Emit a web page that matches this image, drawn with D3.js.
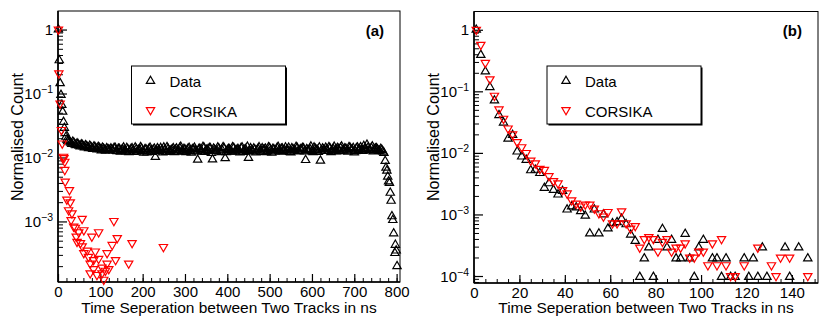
<!DOCTYPE html>
<html>
<head>
<meta charset="utf-8">
<script src="https://cdn.jsdelivr.net/npm/d3@7"></script>
<style>
  body { margin: 0; background: #fff; }
  text { font-family: "Liberation Sans", Arial, Helvetica, sans-serif; }
</style>
</head>
<body>
<script>
// ---- panel (a) : full range ----
var aDataHead = [[1,1.0],[3,0.33],[5,0.145],[7,0.095],[9,0.066],[11,0.052],[13,0.036],
  [15,0.029],[17,0.024],[19,0.021],[21,0.019],[23,0.018]];

// 5 ns bins starting at 25 ns
var aPlateauStart = 25, aPlateauStep = 5;
var aDataPlateau = [
  0.0185,0.0170,0.0176,0.0160,0.0166,0.0153,0.0160,0.0148,0.0155,0.0144,
  0.0152,0.0140,0.0149,0.0137,0.0146,0.0134,0.0142,0.0131,0.0139,0.0133,
  0.0138,0.0128,0.0141,0.0125,0.0136,0.0130,0.0143,0.0124,0.0134,0.0129,
  0.0139,0.0122,0.0135,0.0131,0.0145,0.0126,0.0133,0.0120,0.0137,0.0128,
  0.0132,0.0102,0.0139,0.0125,0.0131,0.0143,0.0122,0.0136,0.0127,0.0134,
  0.0121,0.0138,0.0129,0.0147,0.0124,0.0133,0.0130,0.0140,0.0119,0.0135,
  0.0128,0.0092,0.0137,0.0123,0.0142,0.0131,0.0126,0.0139,0.0093,0.0132,
  0.0125,0.0138,0.0121,0.0145,0.0097,0.0130,0.0134,0.0123,0.0141,0.0128,
  0.0136,0.0120,0.0143,0.0131,0.0126,0.0098,0.0139,0.0124,0.0133,0.0129,
  0.0144,0.0122,0.0132,0.0137,0.0125,0.0140,0.0119,0.0134,0.0130,0.0146,
  0.0123,0.0138,0.0131,0.0127,0.0142,0.0120,0.0135,0.0129,0.0141,0.0124,
  0.0133,0.0139,0.0091,0.0130,0.0136,0.0125,0.0143,0.0131,0.0122,0.0089,
  0.0138,0.0127,0.0134,0.0145,0.0121,0.0136,0.0130,0.0140,0.0125,0.0148,
  0.0129,0.0137,0.0123,0.0142,0.0133,0.0120,0.0139,0.0131,0.0144,0.0126,
  0.0136,0.0158,0.0130,0.0141,0.0124,0.0138,0.0133,0.0127,0.0131,0.0118
];
// the in-between 5 ns bins, starting at 27.5 ns
var aPlateau2Start = 27.5;
var aDataPlateau2 = [
  0.0178,0.0163,0.0170,0.0155,0.0161,0.0149,0.0156,0.0143,0.0150,0.0140,
  0.0147,0.0136,0.0144,0.0133,0.0141,0.0129,0.0137,0.0127,0.0135,0.0130,
  0.0133,0.0141,0.0126,0.0137,0.0123,0.0134,0.0128,0.0140,0.0121,0.0136,
  0.0130,0.0143,0.0124,0.0132,0.0138,0.0119,0.0135,0.0127,0.0142,0.0122,
  0.0137,0.0126,0.0131,0.0140,0.0120,0.0133,0.0145,0.0124,0.0130,0.0139,
  0.0132,0.0123,0.0141,0.0127,0.0136,0.0121,0.0138,0.0125,0.0134,0.0142,
  0.0124,0.0135,0.0129,0.0146,0.0122,0.0133,0.0140,0.0118,0.0137,0.0126,
  0.0143,0.0128,0.0132,0.0139,0.0121,0.0136,0.0127,0.0144,0.0123,0.0131,
  0.0129,0.0140,0.0122,0.0135,0.0147,0.0125,0.0131,0.0138,0.0120,0.0136,
  0.0127,0.0139,0.0133,0.0121,0.0144,0.0130,0.0136,0.0124,0.0141,0.0128,
  0.0137,0.0125,0.0143,0.0132,0.0122,0.0139,0.0128,0.0146,0.0126,0.0134,
  0.0140,0.0124,0.0135,0.0129,0.0148,0.0121,0.0137,0.0131,0.0143,0.0127,
  0.0133,0.0142,0.0126,0.0139,0.0130,0.0147,0.0124,0.0136,0.0141,0.0129,
  0.0138,0.0127,0.0145,0.0132,0.0140,0.0125,0.0143,0.0134,0.0129,0.0151,
  0.0135,0.0142,0.0128,0.0149,0.0133,0.0139,0.0126,0.0136,0.0123
];

var aDataTail = [[773,0.0088],[775,0.0069],[777,0.0062],[779,0.005],[781,0.0042],[783,0.004],
  [785,0.0028],[787,0.0021],[789,0.0012],[791,0.00105],[793,0.00065],[797,0.00043],
  [799,0.00035],[796,0.00032],[801,0.0002]];

var aCorsika = [[1,1.0],[2,0.207],[5,0.070],[8,0.027],[10,0.0166],[13,0.0103],[14,0.0098],
  [16,0.0086],[16,0.0064],[17,0.0042],[21,0.0022],[25,0.0015],[27,0.0031],[29,0.002],
  [31,0.00105],[33,0.00134],[37,0.00083],[41,0.0008],[43,0.00058],[45,0.00048],[49,0.00068],
  [53,0.00046],[57,0.0011],[57,0.00041],[61,0.00073],[61,0.00032],[69,0.00035],[72,0.00028],
  [76,0.00022],[76,0.000155],[80,0.00058],[84,0.00025],[84,0.00018],[88,0.00034],[92,0.000146],
  [96,0.00068],[96,0.00026],[104,0.00019],[104,0.000155],[108,0.000123],[112,0.00017],
  [116,0.00032],[116,0.00022],[120,0.00018],[128,0.00043],[132,0.00102],[136,0.00025],
  [140,0.00055],[167,0.00022],[175,0.00046],[249,0.0004]];

// ---- panel (b) : first 150 ns ----
var bData = [[1,1.0],[3,0.39],[5,0.21],[7,0.117],[9,0.071],[11,0.041],[13,0.031],[15,0.017],
  [17,0.0195],[19,0.0105],[21,0.0087],[23,0.0077],[25,0.0052],[27,0.0053],[29,0.0047],
  [31,0.0027],[33,0.0032],[35,0.0025],[37,0.0021],[39,0.0024],[41,0.0012],[43,0.00135],
  [45,0.0013],[47,0.00113],[49,0.00095],[51,0.00049],[53,0.0012],[55,0.00049],[57,0.001],
  [59,0.00059],[61,0.00072],[63,0.00075],[65,0.00085],[67,0.00069],[69,0.00047],[71,0.00037],
  [73,0.0000965],[75,0.000193],[77,0.00029],[79,0.0000965],[81,0.000386],[83,0.00058],
  [85,0.00029],[87,0.000386],[89,0.000193],[91,0.000193],[93,0.000483],[95,0.000193],
  [97,0.0000965],[99,0.00029],[101,0.000386],[105,0.000193],[107,0.000193],[109,0.0000965],
  [111,0.000193],[113,0.0000965],[115,0.0000965],[119,0.000193],[121,0.0000965],
  [123,0.000193],[125,0.0000965],[127,0.00029],[129,0.0000965],[137,0.00029],
  [139,0.0000965],[143,0.00029],[147,0.000193]];

var bCorsika = [[1,1.0],[3,0.57],[5,0.29],[7,0.157],[9,0.085],[11,0.051],[13,0.036],[15,0.025],
  [17,0.020],[19,0.015],[21,0.0124],[23,0.0100],[25,0.0075],[27,0.0068],[29,0.0055],
  [31,0.0053],[33,0.0042],[35,0.0035],[37,0.0032],[39,0.0025],[41,0.0022],[43,0.0017],
  [45,0.0015],[47,0.00135],[49,0.00145],[51,0.00145],[53,0.00125],[55,0.00105],[57,0.00093],
  [59,0.0011],[61,0.00072],[63,0.00072],[65,0.00113],[67,0.00072],[69,0.00059],[71,0.00065],
  [73,0.00029],[75,0.0004],[77,0.00043],[79,0.0004],[81,0.00025],[83,0.00036],[85,0.0004],
  [87,0.00025],[89,0.00029],[91,0.00029],[93,0.00034],[95,0.0002],[97,0.0002],[99,0.00025],
  [101,0.00025],[103,0.00015],[105,0.00034],[107,0.00015],[109,0.0004],[111,0.00015],
  [113,0.0001],[115,0.0001],[119,0.00015],[125,0.00029],[131,0.00015],[133,0.0001],
  [135,0.0002],[139,0.0002],[147,0.0001]];

var xTicksA = [0,100,200,300,400,500,600,700,800];
var xTicksB = [0,20,40,60,80,100,120,140];
var yDecadesA = [1,0.1,0.01,0.001];
var yDecadesB = [1,0.1,0.01,0.001,0.0001];
var seriesNames = ["Data","CORSIKA"];
var xTitle = "Time Seperation between Two Tracks in ns";
var yTitle = "Normalised Count";

var aData = aDataHead
  .concat(aDataPlateau.map(function(v, i) { return [aPlateauStart + i * aPlateauStep, v]; }))
  .concat(aDataPlateau2.map(function(v, i) { return [aPlateau2Start + i * aPlateauStep, v]; }))
  .concat(aDataTail);

var svg = d3.select("body").append("svg").attr("width", 830).attr("height", 327);
svg.append("rect").attr("width", 830).attr("height", 327).attr("fill", "#fff");

var tri = d3.symbol().type(d3.symbolTriangle).size(30);
var markW = 1.2;

function drawPanel(p) {
  var x = d3.scaleLinear().domain(p.xDomain).range([p.left, p.right]);
  var y = d3.scaleLog().domain(p.yDomain).range([p.bottom, p.top]);
  var g = svg.append("g");

  // x ticks (inside)
  var minor = d3.range(0, p.xDomain[1] + 0.001, p.xMinor);
  g.append("g").attr("transform", "translate(0," + p.bottom + ")")
    .call(d3.axisBottom(x).tickValues(minor).tickSize(-4).tickFormat(""))
    .call(function(s) { s.select(".domain").remove(); });
  var xa = g.append("g").attr("transform", "translate(0," + p.bottom + ")")
    .call(d3.axisBottom(x).tickValues(p.xTicks).tickSize(-8).tickPadding(4).tickFormat(d3.format("d")));
  xa.select(".domain").remove();
  xa.selectAll("line").attr("stroke-width", 1.2);
  xa.selectAll("text").attr("font-size", 15).attr("font-family", null).attr("fill", "#000");

  // y ticks (inside, log)
  var yMinor = [];
  for (var e = -5; e <= 0; e++) {
    for (var k = 2; k <= 9; k++) {
      var v = k * Math.pow(10, e);
      if (v >= p.yDomain[0] && v <= p.yDomain[1]) yMinor.push(v);
    }
  }
  g.append("g").attr("transform", "translate(" + p.left + ",0)")
    .call(d3.axisLeft(y).tickValues(yMinor).tickSize(-5).tickFormat(""))
    .call(function(s) { s.select(".domain").remove(); });
  g.append("g").attr("transform", "translate(" + p.left + ",0)")
    .call(d3.axisLeft(y).tickValues(p.yDecades).tickSize(-9).tickFormat(""))
    .call(function(s) { s.select(".domain").remove(); s.selectAll("line").attr("stroke-width", 1.2); });

  var yl = g.selectAll(".ylab").data(p.yDecades).enter().append("text")
    .attr("x", p.left - 5).attr("y", function(d) { return y(d) + 5.5; })
    .attr("text-anchor", "end").attr("font-size", 15);
  yl.each(function(d) {
    var t = d3.select(this);
    var ex = Math.round(Math.log10(d));
    if (ex === 0) { t.text("1"); return; }
    t.append("tspan").text("10");
    t.append("tspan").attr("dy", -6).attr("font-size", 10.5).text("\u2212" + (-ex));
  });

  // frame
  g.append("rect").attr("x", p.left).attr("y", p.top)
    .attr("width", p.right - p.left).attr("height", p.bottom - p.top)
    .attr("fill", "none").attr("stroke", "#000").attr("stroke-width", 1);
  g.append("line").attr("x1", p.left).attr("x2", p.left).attr("y1", p.top).attr("y2", p.bottom)
    .attr("stroke", "#000").attr("stroke-width", 1.6);
  g.append("line").attr("x1", p.left).attr("x2", p.right).attr("y1", p.bottom).attr("y2", p.bottom)
    .attr("stroke", "#000").attr("stroke-width", 1.6);

  // markers
  g.append("g").selectAll("path").data(p.data).enter().append("path")
    .attr("d", tri)
    .attr("transform", function(d) { return "translate(" + x(d[0]) + "," + y(d[1]) + ")"; })
    .attr("fill", "none").attr("stroke", "#000").attr("stroke-width", markW);
  g.append("g").selectAll("path").data(p.sim).enter().append("path")
    .attr("d", tri)
    .attr("transform", function(d) { return "translate(" + x(d[0]) + "," + y(d[1]) + ") rotate(180)"; })
    .attr("fill", "none").attr("stroke", "#ff0000").attr("stroke-width", markW);

  // titles
  g.append("text").attr("x", (p.left + p.right) / 2).attr("y", 313)
    .attr("text-anchor", "middle").attr("font-size", 15.5).text(xTitle);
  g.append("text").attr("transform", "translate(" + (p.left - 35) + ",137) rotate(-90)")
    .attr("text-anchor", "middle").attr("font-size", 16).text(yTitle);
  g.append("text").attr("x", p.right - 16).attr("y", 36)
    .attr("text-anchor", "end").attr("font-size", 15).attr("font-weight", "bold").text(p.tag);

  // legend
  var lx = p.legend[0], ly = p.legend[1], lw = 154, lh = 58;
  g.append("rect").attr("x", lx + 1.5).attr("y", ly + 1.5).attr("width", lw).attr("height", lh).attr("fill", "#000");
  g.append("rect").attr("x", lx).attr("y", ly).attr("width", lw).attr("height", lh)
    .attr("fill", "#fff").attr("stroke", "#000").attr("stroke-width", 1);
  g.append("path").attr("d", tri).attr("transform", "translate(" + (lx + 19) + "," + (ly + 15) + ")")
    .attr("fill", "none").attr("stroke", "#000").attr("stroke-width", markW);
  g.append("path").attr("d", tri).attr("transform", "translate(" + (lx + 19) + "," + (ly + 44) + ") rotate(180)")
    .attr("fill", "none").attr("stroke", "#ff0000").attr("stroke-width", markW);
  g.append("text").attr("x", lx + 38).attr("y", ly + 21).attr("font-size", 15).text(seriesNames[0]);
  g.append("text").attr("x", lx + 38).attr("y", ly + 50.5).attr("font-size", 15).text(seriesNames[1]);
}

drawPanel({ left: 58, right: 400, top: 11, bottom: 282, xDomain: [0, 808], yDomain: [1.13e-4, 1.95],
  xTicks: xTicksA, xMinor: 20, yDecades: yDecadesA, data: aData, sim: aCorsika, tag: "(a)", legend: [131.5, 66] });
drawPanel({ left: 474, right: 818, top: 11.5, bottom: 283, xDomain: [0, 151.5], yDomain: [7.7e-5, 1.98],
  xTicks: xTicksB, xMinor: 5, yDecades: yDecadesB, data: bData, sim: bCorsika, tag: "(b)", legend: [547, 66] });
</script>
</body>
</html>
